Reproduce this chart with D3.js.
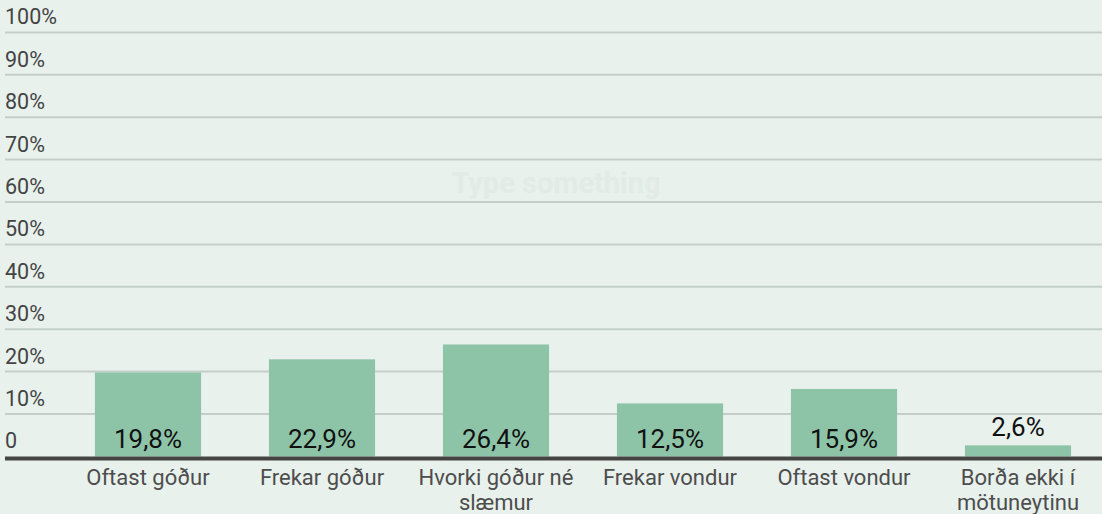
<!DOCTYPE html>
<html>
<head>
<meta charset="utf-8">
<script src="https://cdn.jsdelivr.net/npm/d3@7"></script>
<style>
  body { margin: 0; background: #e8f1ec; }
  svg { display: block; font-family: Roboto, sans-serif; }
</style>
</head>
<body>
<div id="chart"></div>
<script>
// Categories and values (percent)
var categories = ["Oftast góður", "Frekar góður", "Hvorki góður né slæmur", "Frekar vondur", "Oftast vondur", "Borða ekki í mötuneytinu"];
var catLines = [["Oftast góður"], ["Frekar góður"], ["Hvorki góður né", "slæmur"], ["Frekar vondur"], ["Oftast vondur"], ["Borða ekki í", "mötuneytinu"]];
var values = [19.8, 22.9, 26.4, 12.5, 15.9, 2.6];
var valueLabels = ["19,8%", "22,9%", "26,4%", "12,5%", "15,9%", "2,6%"];
var ticks = [0, 10, 20, 30, 40, 50, 60, 70, 80, 90, 100];

var width = 1102, height = 514;

var svg = d3.select("#chart").append("svg")
    .attr("width", width)
    .attr("height", height);

svg.append("rect").attr("width", width).attr("height", height).attr("fill", "#e8f1ec");

var x = d3.scaleBand()
    .domain(categories)
    .range([61, 1105])
    .paddingInner(0.39)
    .paddingOuter(0.195);

var y = d3.scaleLinear()
    .domain([0, 100])
    .range([456.4, 32.4]);

// watermark placeholder text
svg.append("text")
    .attr("x", 556).attr("y", 193)
    .attr("text-anchor", "middle")
    .attr("font-size", 29).attr("font-weight", "bold")
    .attr("fill", "#e2ece6")
    .text("Type something");

// gridlines + tick labels
var grid = svg.append("g").selectAll("g")
    .data(ticks)
    .join("g");

grid.filter(d => d > 0).append("line")
    .attr("x1", 5).attr("x2", width)
    .attr("y1", d => y(d)).attr("y2", d => y(d))
    .attr("stroke", "#c5cfc9")
    .attr("stroke-width", 2);

grid.append("text")
    .attr("x", 5)
    .attr("y", d => y(d) - 8)
    .attr("font-size", 21.5)
    .attr("fill", "#444")
    .text(d => d === 0 ? "0" : d + "%");

// bars
svg.append("g").selectAll("rect")
    .data(values)
    .join("rect")
    .attr("x", (d, i) => x(categories[i]))
    .attr("y", d => y(d))
    .attr("width", x.bandwidth())
    .attr("height", d => y(0) - y(d))
    .attr("fill", "#8dc4a8");

// baseline
svg.append("line")
    .attr("x1", 5).attr("x2", width)
    .attr("y1", y(0) + 2).attr("y2", y(0) + 2)
    .attr("stroke", "#444")
    .attr("stroke-width", 4);

// value labels - inside at bottom unless the bar is too short
svg.append("g").selectAll("text")
    .data(values)
    .join("text")
    .attr("x", (d, i) => x(categories[i]) + x.bandwidth() / 2)
    .attr("y", d => (y(0) - y(d)) > 26 ? y(0) - 8 : y(d) - 9)
    .attr("text-anchor", "middle")
    .attr("font-size", 26)
    .attr("fill", "#111")
    .text((d, i) => valueLabels[i]);

// category labels
var cat = svg.append("g").selectAll("text")
    .data(catLines)
    .join("text")
    .attr("x", (d, i) => x(categories[i]) + x.bandwidth() / 2)
    .attr("y", 485)
    .attr("text-anchor", "middle")
    .attr("font-size", 22)
    .attr("fill", "#4d4d4d");

cat.selectAll("tspan")
    .data(d => d)
    .join("tspan")
    .attr("x", function () { return this.parentNode.getAttribute("x"); })
    .attr("dy", (d, i) => i === 0 ? 0 : 25)
    .text(d => d);
</script>
</body>
</html>
